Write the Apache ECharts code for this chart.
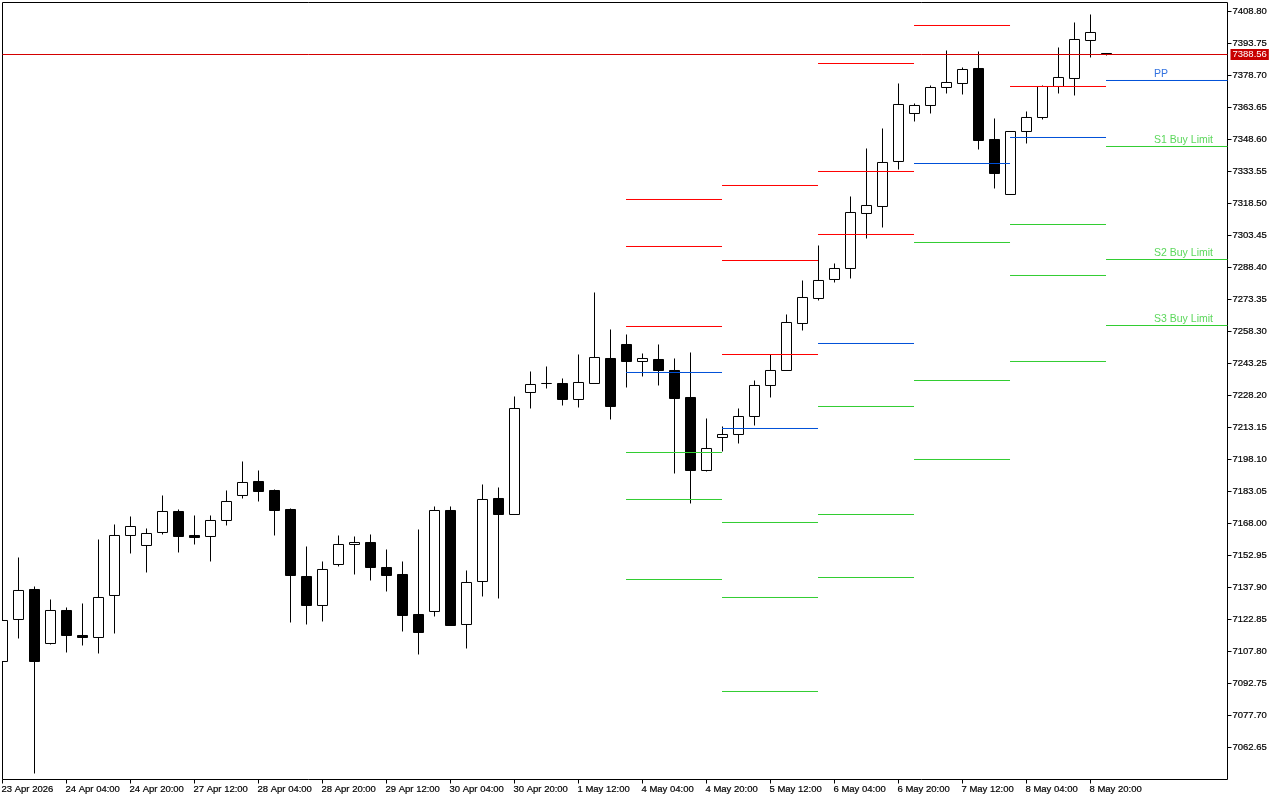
<!DOCTYPE html>
<html><head><meta charset="utf-8">
<style>html,body{margin:0;padding:0;background:#fff}#c{width:1280px;height:800px}</style>
<script src="https://cdn.jsdelivr.net/npm/echarts@6/dist/echarts.min.js"></script>
</head><body><div id="c"></div>
<script>
// [open, close, low, high] of each 4-hour bar
var ohlc = [
[7103.2,7122.5,7103.2,7122.5],[7122.9,7136.6,7113.8,7152.2],[7137.1,7103.0,7050.3,7138.6],[7111.7,7127.0,7111.0,7132.5],
[7127.2,7115.2,7107.2,7128.7],[7115.6,7114.3,7110.5,7130.6],[7114.5,7133.3,7106.8,7160.7],[7134.2,7162.5,7116.2,7167.8],
[7162.5,7166.5,7153.8,7171.5],[7157.8,7163.4,7144.9,7165.9],[7163.9,7173.7,7162.7,7181.4],[7173.7,7161.8,7154.3,7174.4],
[7162.6,7161.3,7158.0,7172.0],[7162.0,7169.5,7150.0,7172.0],[7169.5,7178.4,7167.0,7183.8],[7181.3,7187.4,7179.7,7197.4],
[7188.0,7183.0,7178.3,7193.2],[7183.8,7174.0,7162.3,7184.2],[7174.8,7143.5,7121.4,7175.3],[7143.3,7129.3,7120.4,7157.0],
[7129.5,7146.5,7121.8,7150.4],[7148.8,7158.2,7148.0,7162.6],[7158.2,7159.2,7143.9,7161.7],[7159.2,7147.2,7141.1,7163.1],
[7147.4,7143.5,7135.9,7156.0],[7144.1,7124.6,7117.1,7150.4],[7125.3,7116.6,7106.3,7165.0],[7126.7,7174.2,7124.2,7176.2],
[7174.2,7119.9,7119.9,7176.2],[7120.6,7140.3,7109.1,7146.1],[7140.6,7179.4,7133.6,7186.6],[7179.9,7172.1,7132.6,7185.2],
[7172.3,7222.2,7172.3,7228.0],[7229.7,7233.5,7222.0,7239.3],[7233.8,7233.9,7231.4,7242.1],[7233.9,7226.2,7223.4,7236.4],
[7226.4,7234.4,7222.5,7247.7],[7233.9,7246.2,7233.9,7276.9],[7245.7,7222.9,7216.8,7259.5],[7252.3,7244.1,7231.9,7257.1],
[7244.3,7245.7,7237.0,7248.2],[7245.2,7239.9,7232.8,7252.4],[7240.1,7226.7,7191.4,7245.8],[7227.4,7192.8,7177.3,7248.7],
[7192.8,7203.4,7192.4,7217.2],[7208.5,7210.0,7201.8,7213.9],[7210.0,7218.4,7205.5,7222.3],[7218.4,7233.0,7214.0,7235.5],
[7233.0,7240.1,7227.2,7247.7],[7240.1,7262.6,7240.1,7266.5],[7262.2,7274.4,7258.7,7282.5],[7273.9,7282.4,7272.8,7299.0],
[7282.9,7288.0,7281.3,7290.5],[7288.0,7314.4,7283.1,7322.0],[7313.9,7317.7,7302.0,7344.6],[7317.2,7337.9,7307.1,7353.9],
[7338.4,7365.2,7334.7,7375.2],[7360.9,7364.7,7357.0,7365.8],[7364.7,7373.2,7360.7,7374.2],[7373.2,7375.5,7370.1,7390.7],
[7375.0,7381.6,7369.7,7382.7],[7382.1,7348.0,7343.8,7389.8],[7348.7,7332.5,7325.5,7358.7],[7322.8,7352.5,7322.8,7352.5],
[7352.5,7359.0,7346.6,7362.0],[7358.9,7373.6,7357.9,7374.2],[7373.6,7377.9,7370.1,7392.1],[7377.4,7395.7,7369.2,7403.9],
[7395.3,7399.0,7387.1,7407.6],[7389.1,7388.56,7388.0,7389.1]
];
var xTickLabels = ['23 Apr 2026','24 Apr 04:00','24 Apr 20:00','27 Apr 12:00','28 Apr 04:00','28 Apr 20:00','29 Apr 12:00','30 Apr 04:00','30 Apr 20:00','1 May 12:00','4 May 04:00','4 May 20:00','5 May 12:00','6 May 04:00','6 May 20:00','7 May 12:00','8 May 04:00','8 May 20:00'];
var priceTicks = [7408.80,7393.75,7378.70,7363.65,7348.60,7333.55,7318.50,7303.45,7288.40,7273.35,7258.30,7243.25,7228.20,7213.15,7198.10,7183.05,7168.00,7152.95,7137.90,7122.85,7107.80,7092.75,7077.70,7062.65];
var lastPrice = 7388.56;
var windowStart = [38.97,44.97,50.97,56.97,62.97,68.97];
var windowEnd   = [44.97,50.97,56.97,62.97,68.97,76.5625];
var r3 = [7320.38,7326.97,7384.34,null,null,null];
var r2 = [7298.28,7291.69,7333.55,null,null,null];
var r1 = [7260.65,7247.48,7303.92,7402.22,7373.53,null];
var pp = [7239.02,7212.68,7252.66,7337.31,7349.54,7376.35];
var s1 = [7201.39,7168.47,7223.03,7300.16,7308.62,7345.31];
var s2 = [7179.29,7133.20,7172.23,7235.25,7284.64,7292.16];
var s3 = [7141.66,7088.99,7142.60,7198.10,7244.19,7261.12];
var levelLabels = [['PP',7376.35,'#0050d8'],['S1 Buy Limit',7345.31,'#32cd32'],['S2 Buy Limit',7292.16,'#32cd32'],['S3 Buy Limit',7261.12,'#32cd32']];
var labelBar = 71.97;

// the terminal draws prices on whole pixel rows: one row is 15.05/32 of a point
var POINTS_PER_ROW = 15.05 / 32;
function toRow(p){
  var r = Math.floor(11.5 + (7408.8 - p) / POINTS_PER_ROW + 0.1);
  return 7408.8 - (r + 0.5 - 11.5) * POINTS_PER_ROW;
}

var FONT = '"Liberation Sans", Arial, sans-serif';
var AXIS_TEXT = {color:'#000',fontFamily:FONT,fontSize:9.5,textBorderColor:'#000',textBorderWidth:0.2};
function levelSeries(values, color){
  var d = [];
  values.forEach(function(v,i){
    if (v === null) return;
    d.push([windowStart[i],v],[windowEnd[i],v],[windowEnd[i],'-']);
  });
  return {type:'line',data:d,symbol:'none',silent:true,animation:false,z:5,
    lineStyle:{color:color,width:1},connectNulls:false};
}
var chart = echarts.init(document.getElementById('c'),null,{renderer:'canvas',devicePixelRatio:1});
var xTicks = xTickLabels.map(function(_,i){return i*4;});
chart.setOption({
  backgroundColor:'#ffffff',animation:false,
  graphic:[{type:'rect',silent:true,z:100,shape:{x:0,y:0,width:2,height:779},style:{fill:'#fff'}}],
  grid:{show:true,left:2.5,top:2.5,width:1225,height:777,borderColor:'#000',borderWidth:1,backgroundColor:'#fff',containLabel:false,outerBoundsMode:'none'},
  xAxis:{type:'value',min:0,max:76.5625,
    axisLine:{show:false,onZero:false},splitLine:{show:false},
    axisTick:{show:true,length:4,lineStyle:{color:'#000',width:1},customValues:xTicks},
    axisLabel:Object.assign({show:true,customValues:xTicks,align:'left',margin:5,padding:[0,0,0,-1],
      formatter:function(v){return xTickLabels[Math.round(v/4)];}},AXIS_TEXT)},
  yAxis:{type:'value',position:'right',min:7047.6,max:7413.03,scale:true,
    axisLine:{show:false,onZero:false},splitLine:{show:false},
    axisTick:{show:true,length:4,lineStyle:{color:'#000',width:1},customValues:priceTicks},
    axisLabel:Object.assign({show:true,customValues:priceTicks,margin:5,padding:[2,0,0,0],
      formatter:function(v){return v.toFixed(2);}},AXIS_TEXT)},
  series:[
    {type:'candlestick',barWidth:10,animation:false,silent:true,z:3,
     encode:{x:0,y:[1,2,3,4]},
     data:ohlc.map(function(b,i){return [i,toRow(b[0]),toRow(b[1]),toRow(b[2]),toRow(b[3])];}),
     itemStyle:{color:'#fff',color0:'#000',borderColor:'#000',borderColor0:'#000',borderWidth:1}},
    levelSeries(r3,'#ff0000'),levelSeries(r2,'#ff0000'),levelSeries(r1,'#ff0000'),
    levelSeries(pp,'#0050d8'),
    levelSeries(s1,'#32cd32'),levelSeries(s2,'#32cd32'),levelSeries(s3,'#32cd32'),
    {type:'scatter',symbolSize:0,silent:true,animation:false,z:6,
     data:levelLabels.map(function(l){
       return {value:[labelBar,l[1]],name:l[0],
         label:{show:true,position:'right',distance:0,offset:[0,-6],formatter:l[0],color:l[2],fontFamily:FONT,fontSize:10.5}};
     })},
    {type:'line',data:[],silent:true,animation:false,z:7,
     markLine:{silent:true,symbol:'none',animation:false,precision:2,
       lineStyle:{color:'#d40000',width:1,type:'solid'},
       label:{show:true,position:'end',distance:3,formatter:function(){return lastPrice.toFixed(2);},color:'#fff',
         backgroundColor:'#c80000',padding:[1,2,0,2],fontFamily:FONT,fontSize:9.5},
       data:[{yAxis:lastPrice}]}}
  ]
});
</script></body></html>
